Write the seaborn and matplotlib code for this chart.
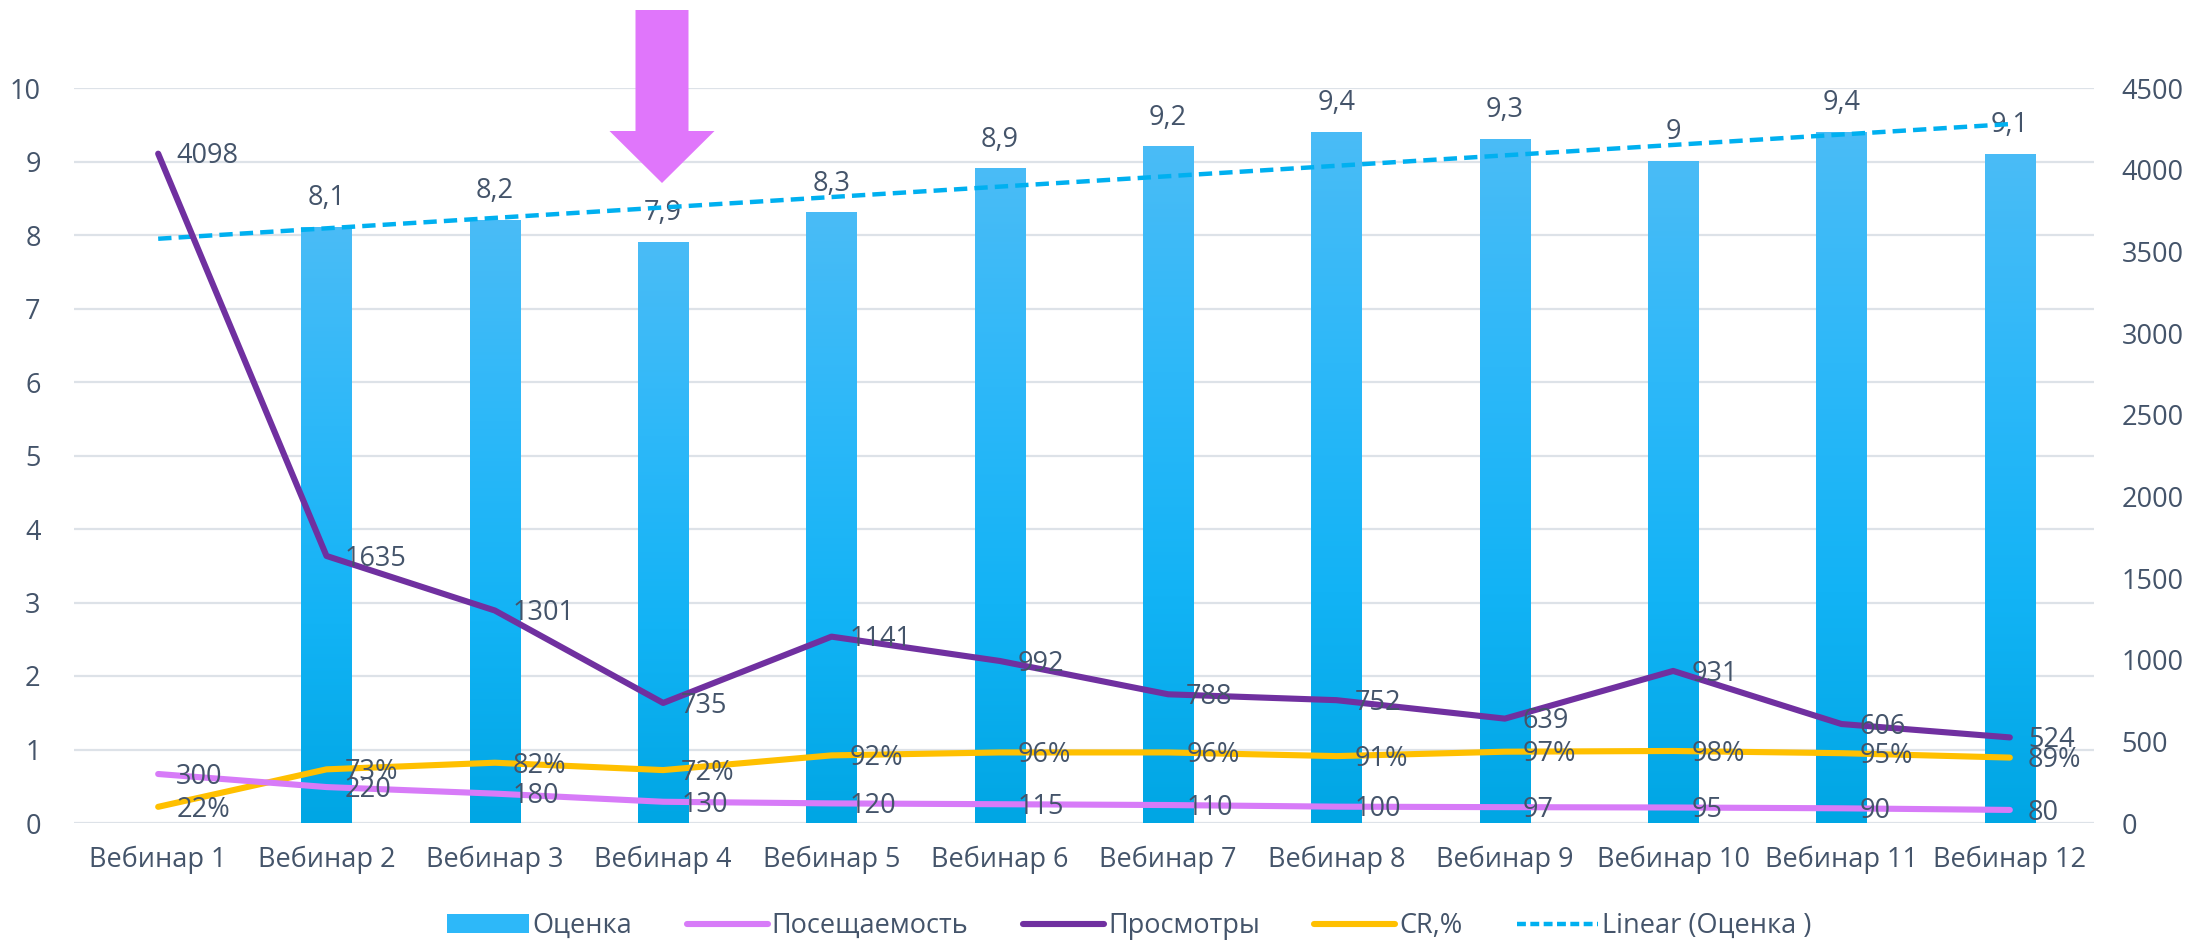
import numpy as np
import pandas as pd
import matplotlib
matplotlib.use("Agg")
import matplotlib.pyplot as plt
import seaborn as sns
from matplotlib.colors import LinearSegmentedColormap
from matplotlib.patches import Patch, FancyArrow
from matplotlib.lines import Line2D

# ---------------- data ----------------
categories = [f"Вебинар {i}" for i in range(1, 13)]
ocenka = [np.nan, 8.1, 8.2, 7.9, 8.3, 8.9, 9.2, 9.4, 9.3, 9.0, 9.4, 9.1]
poseshchaemost = [300, 220, 180, 130, 120, 115, 110, 100, 97, 95, 90, 80]
prosmotry = [4098, 1635, 1301, 735, 1141, 992, 788, 752, 639, 931, 606, 524]
cr = [0.22, 0.73, 0.82, 0.72, 0.92, 0.96, 0.96, 0.91, 0.97, 0.98, 0.95, 0.89]
left_ticks = list(range(0, 11))
right_ticks = list(range(0, 4501, 500))

df = pd.DataFrame({"cat": categories, "ocenka": ocenka,
                   "pos": poseshchaemost, "pros": prosmotry, "cr": cr})

# ---------------- style ----------------
sns.set_theme(style="white")
plt.rcParams["font.family"] = ["Open Sans", "DejaVu Sans"]
TXT = "#44546A"
FS = 19.5
LW = 4.4
C_POS = "#D77BF8"
C_PROS = "#7030A0"
C_CR = "#FFC000"
C_TREND = "#00B0F0"
C_ARROW = "#E076FB"

fig = plt.figure(figsize=(21.93, 9.43), dpi=100)
L, R, T, B = 74, 2094, 88, 823
ax = fig.add_axes([L / 2193, 1 - B / 943, (R - L) / 2193, (B - T) / 943])
ax2 = ax.twinx()

# bars
sns.barplot(data=df, x="cat", y="ocenka", ax=ax, color="#1DB7FA", width=0.30,
            saturation=1, zorder=2)
cmap = LinearSegmentedColormap.from_list("g", ["#00A6E4", "#12B3F5", "#2DB8F9", "#4ABCF6"])
grad = np.linspace(0, 1, 256).reshape(-1, 1)
for p in list(ax.patches):
    h = p.get_height()
    if not np.isfinite(h) or h == 0:
        continue
    x0, w = p.get_x(), p.get_width()
    p.set_facecolor("none")
    p.set_edgecolor("none")
    ax.imshow(grad, extent=[x0, x0 + w, 0, h], origin="lower", aspect="auto",
              cmap=cmap, zorder=2, interpolation="bicubic")

xs = np.arange(len(categories))

# CR on left axis
sns.lineplot(x=xs, y=cr, ax=ax, color=C_CR, lw=LW, zorder=4, legend=False,
             solid_capstyle="round")

# trendline for Оценка (linear fit like Excel)
mask = ~np.isnan(np.array(ocenka))
xf = xs[mask] + 1
coef = np.polyfit(xf, np.array(ocenka)[mask], 1)
xt = np.array([xs[0], xs[-1]])
ax.plot(xt, np.polyval(coef, xt + 1), color=C_TREND, lw=3.2, ls=(0, (3, 1.6)), zorder=5)

# right axis lines
sns.lineplot(x=xs, y=poseshchaemost, ax=ax2, color=C_POS, lw=LW, legend=False,
             solid_capstyle="round")
sns.lineplot(x=xs, y=prosmotry, ax=ax2, color=C_PROS, lw=LW, legend=False,
             solid_capstyle="round")

# limits
ax.set_xlim(-0.5, 11.5)
ax.set_ylim(0, 10)
ax2.set_ylim(0, 4500)
ax.set_yticks(left_ticks)
ax2.set_yticks(right_ticks)
ax.set_xticks(xs)
ax.set_xticklabels(categories)
ax.set_xlabel("")
ax.set_ylabel("")
ax2.set_ylabel("")

ax.grid(axis="y", color="#DDE2E8", lw=1.6, zorder=0)
ax.set_axisbelow(True)
for a in (ax, ax2):
    for s in a.spines.values():
        s.set_visible(False)
ax.tick_params(axis="y", length=0, pad=24, labelsize=FS, labelcolor=TXT)
ax.tick_params(axis="x", length=0, pad=16, labelsize=FS, labelcolor=TXT)
ax2.tick_params(axis="y", length=0, pad=20, labelsize=FS, labelcolor=TXT)

# data labels
OFF = (13, -2)
for i, v in enumerate(ocenka):
    if np.isfinite(v):
        s = f"{v:g}".replace(".", ",")
        ax.annotate(s, (i, v), xytext=(0, 21), textcoords="offset points",
                    ha="center", va="center", fontsize=FS, color=TXT, zorder=3)
for i, v in enumerate(cr):
    ax.annotate(f"{round(v * 100)}%", (i, v), xytext=OFF, textcoords="offset points",
                ha="left", va="center", fontsize=FS, color=TXT, zorder=6)
for i, v in enumerate(poseshchaemost):
    ax2.annotate(f"{v}", (i, v), xytext=OFF, textcoords="offset points",
                 ha="left", va="center", fontsize=FS, color=TXT)
for i, v in enumerate(prosmotry):
    ax2.annotate(f"{v}", (i, v), xytext=OFF, textcoords="offset points",
                 ha="left", va="center", fontsize=FS, color=TXT)

# pink arrow annotation
arrow = FancyArrow(662 / 2193, 1 - 10 / 943, 0, -(183 - 10) / 943,
                   width=53 / 2193, head_width=105 / 2193, head_length=52 / 943,
                   length_includes_head=True, transform=fig.transFigure,
                   color=C_ARROW, lw=0)
fig.patches.append(arrow)

# legend
handles = [
    Patch(facecolor="#2DB8F9", edgecolor="none"),
    Line2D([], [], color=C_POS, lw=LW, solid_capstyle="round"),
    Line2D([], [], color=C_PROS, lw=LW, solid_capstyle="round"),
    Line2D([], [], color=C_CR, lw=LW, solid_capstyle="round"),
    Line2D([], [], color=C_TREND, lw=3.2, ls=(0, (2, 1))),
]
labels = ["Оценка", "Посещаемость", "Просмотры", "CR,%", "Linear (Оценка )"]
leg = fig.legend(handles, labels, loc="center", bbox_to_anchor=(0.515, 0.018),
                 ncol=5, frameon=False, fontsize=FS, handlelength=3.0,
                 handletextpad=0.15, columnspacing=2.0, labelcolor=TXT)

fig.savefig("out.png", dpi=100)
